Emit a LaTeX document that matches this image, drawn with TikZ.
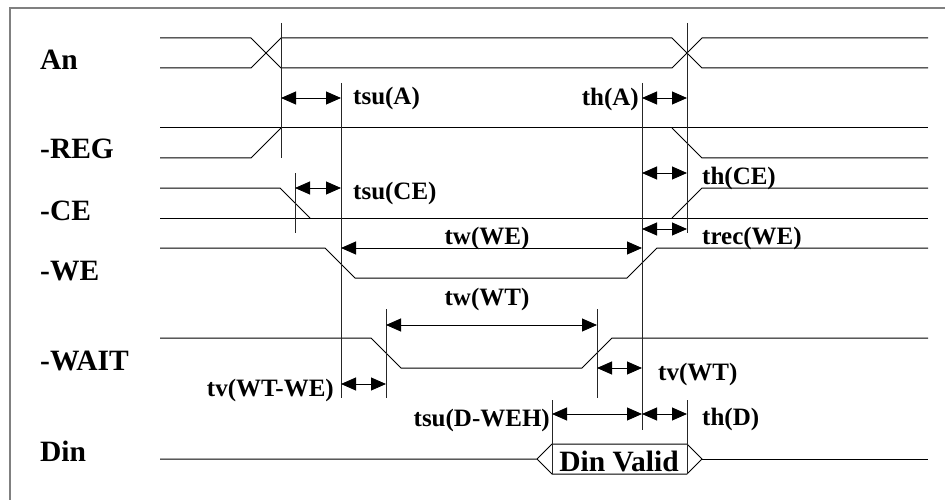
\documentclass[tikz,border=0pt]{standalone}
\usepackage{fontspec}
\setmainfont{Liberation Serif}
\usetikzlibrary{arrows.meta}
\begin{document}
\begin{tikzpicture}[x=1pt,y=-1pt,
  sig/.style={line width=1pt, black},
  guide/.style={line width=1pt, black!85},
  dim/.style={line width=0.9pt, {Triangle[length=15pt,width=13pt]}-{Triangle[length=15pt,width=13pt]}},
  big/.style={font=\fontsize{29.5}{31}\selectfont\bfseries, inner sep=0pt},
  lbl/.style={font=\fontsize{25}{27}\selectfont\bfseries, inner sep=0pt},
  frame/.style={line width=1.5pt, black!50}]
\useasboundingbox (0,0) rectangle (945,500);
% frame
\draw[frame] (10,500) -- (10,8) -- (945,8);

% signals
% An
\draw[sig] (160,38) -- (251,38) -- (281,68) -- (672,68) -- (702,38) -- (928,38);
\draw[sig] (160,68) -- (251,68) -- (281,38) -- (672,38) -- (702,68) -- (928,68);
% -REG
\draw[sig] (160,128) -- (928,128);
\draw[sig] (160,158) -- (251,158) -- (281,128);
\draw[sig] (672,128) -- (702,158) -- (928,158);
% -CE
\draw[sig] (160,188) -- (280,188) -- (310,218);
\draw[sig] (160,218) -- (928,218);
\draw[sig] (672,218) -- (702,188) -- (928,188);
% -WE
\draw[sig] (160,248) -- (325,248) -- (355,278) -- (627,278) -- (657,248) -- (928,248);
% -WAIT
\draw[sig] (160,338) -- (371,338) -- (401,368) -- (582,368) -- (612,338) -- (928,338);
% Din
\draw[sig] (160,459) -- (537,459) -- (552,444) -- (687,444) -- (702,459) -- (687,474) -- (552,474) -- (537,459);
\draw[sig] (702,459) -- (928,459);

% guide lines
\coordinate (gA1t) at (281,23);   \coordinate (gA1b) at (281,158);
\coordinate (gA2t) at (687,23);   \coordinate (gA2b) at (687,233);
\coordinate (gWEt) at (341,83);   \coordinate (gWEb) at (341,398);
\coordinate (gCEt) at (295,173);  \coordinate (gCEb) at (295,233);
\coordinate (gWHt) at (642,83);   \coordinate (gWHb) at (642,430);
\coordinate (gT1t) at (386,309);  \coordinate (gT1b) at (386,398);
\coordinate (gT2t) at (597,309);  \coordinate (gT2b) at (597,398);
\coordinate (gD1t) at (552,400);  \coordinate (gD1b) at (552,474);
\coordinate (gD2t) at (687,400);  \coordinate (gD2b) at (687,474);
\foreach \g in {gA1,gA2,gWE,gCE,gWH,gT1,gT2,gD1,gD2}
  \draw[guide] (\g t) -- (\g b);

% dimension arrows
\coordinate (dA1) at (281,98);   \coordinate (dA2) at (341,98);
\coordinate (dA3) at (642,98);   \coordinate (dA4) at (687,98);
\coordinate (dC1) at (295,188);  \coordinate (dC2) at (341,188);
\coordinate (dC3) at (642,173);  \coordinate (dC4) at (687,173);
\coordinate (dR1) at (642,229);  \coordinate (dR2) at (687,229);
\coordinate (dW1) at (341,248);  \coordinate (dW2) at (642,248);
\coordinate (dT1) at (386,325);  \coordinate (dT2) at (597,325);
\coordinate (dV1) at (341,384);  \coordinate (dV2) at (386,384);
\coordinate (dV3) at (597,368);  \coordinate (dV4) at (642,368);
\coordinate (dS1) at (552,414);  \coordinate (dS2) at (642,414);
\coordinate (dS3) at (687,414);
\draw[dim] (dA1) -- (dA2);
\draw[dim] (dA3) -- (dA4);
\draw[dim] (dC1) -- (dC2);
\draw[dim] (dC3) -- (dC4);
\draw[dim] (dR1) -- (dR2);
\draw[dim] (dW1) -- (dW2);
\draw[dim] (dT1) -- (dT2);
\draw[dim] (dV1) -- (dV2);
\draw[dim] (dV3) -- (dV4);
\draw[dim] (dS1) -- (dS2);
\draw[dim] (dS2) -- (dS3);

% signal names
\node[big, anchor=base west] (nAn)   at (40,70)  {An};
\node[big, anchor=base west] (nREG)  at (40,159) {-REG};
\node[big, anchor=base west] (nCE)   at (40,220) {-CE};
\node[big, anchor=base west] (nWE)   at (40,280) {-WE};
\node[big, anchor=base west] (nWAIT) at (40,370) {-WAIT};
\node[big, anchor=base west] (nDin)  at (40,461) {Din};

% timing labels
\node[lbl, anchor=base west] (ltsuA)  at (353,105) {tsu(A)};
\node[lbl, anchor=base west] (ltsuCE) at (353,199) {tsu(CE)};
\node[lbl, anchor=base east] (lthA)   at (639,106) {th(A)};
\node[lbl, anchor=base west] (lthCE)  at (702,184) {th(CE)};
\node[lbl, anchor=base west] (ltrec)  at (702,244) {trec(WE)};
\node[lbl, anchor=base]      (ltwWE)  at (487,244) {tw(WE)};
\node[lbl, anchor=base]      (ltwWT)  at (487,305) {tw(WT)};
\node[lbl, anchor=base east] (ltvWW)  at (334,396) {tv(WT-WE)};
\node[lbl, anchor=base west] (ltvWT)  at (658,380) {tv(WT)};
\node[lbl, anchor=base east] (ltsuD)  at (550,426) {tsu(D-WEH)};
\node[lbl, anchor=base west] (lthD)   at (702,425) {th(D)};
\node[big, anchor=base] (lvalid) at (619,471) {Din Valid};
\end{tikzpicture}
\end{document}
